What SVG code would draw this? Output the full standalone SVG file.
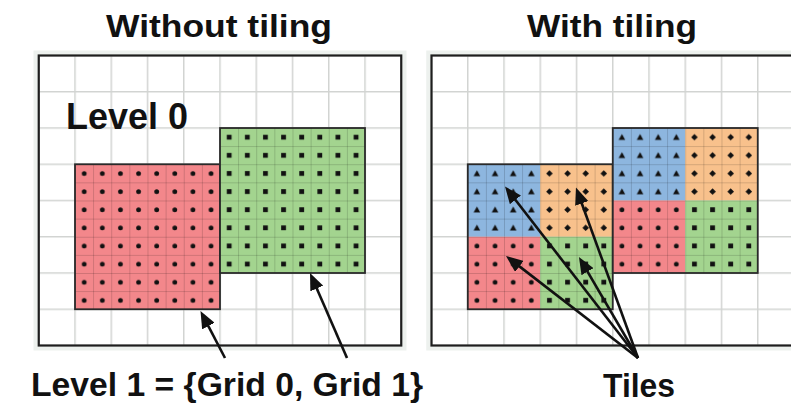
<svg xmlns="http://www.w3.org/2000/svg" width="791" height="405" viewBox="0 0 791 405">
  <style>
    .label { font-family: "Liberation Sans", Arial, sans-serif; font-weight: bold; fill: #111; }
    .halo { fill: none; stroke: #edf1ee; stroke-width: 5; }
    .frame { fill: none; stroke: #1e1e1e; stroke-width: 2.2; }
    .outline { fill: none; stroke: #2a2a2a; stroke-width: 1.8; }
    .red { fill: #f3878b; }
    .green { fill: #a3d48f; }
    .blue { fill: #8db6df; }
    .orange { fill: #f8c18c; }
    .arrow { stroke: #111; stroke-width: 2.6; fill: none; marker-end: url(#head); }
  </style>
  <defs>
    <!-- coarse background grid, 36.25 px cells -->
    <pattern id="bg" width="36.25" height="36.25" patternUnits="userSpaceOnUse" x="38" y="54.75">
      <path d="M0.75,0V36.25M0,0.75H36.25" stroke="#d2d4d2" stroke-width="1.5"/>
    </pattern>
    <!-- fine cells (18.125 px) with one marker each -->
    <pattern id="pDot" width="18.125" height="18.125" patternUnits="userSpaceOnUse" x="75" y="164.25">
      <path d="M0.4,0V18.125M0,0.4H18.125" stroke="#000" stroke-opacity="0.18" stroke-width="0.9"/>
      <circle cx="9.2" cy="9.2" r="2.4" fill="#111"/>
    </pattern>
    <pattern id="pSquare" width="18.125" height="18.125" patternUnits="userSpaceOnUse" x="75" y="164.25">
      <path d="M0.4,0V18.125M0,0.4H18.125" stroke="#000" stroke-opacity="0.18" stroke-width="0.9"/>
      <rect x="6.8" y="6.8" width="4.8" height="4.8" fill="#111"/>
    </pattern>
    <pattern id="pTri" width="18.125" height="18.125" patternUnits="userSpaceOnUse" x="75" y="164.25">
      <path d="M0.4,0V18.125M0,0.4H18.125" stroke="#000" stroke-opacity="0.18" stroke-width="0.9"/>
      <path d="M9.2,6L12.5,12H5.9Z" fill="#111"/>
    </pattern>
    <pattern id="pDiamond" width="18.125" height="18.125" patternUnits="userSpaceOnUse" x="75" y="164.25">
      <path d="M0.4,0V18.125M0,0.4H18.125" stroke="#000" stroke-opacity="0.18" stroke-width="0.9"/>
      <path d="M9.2,5.9L12.5,9.2L9.2,12.5L5.9,9.2Z" fill="#111"/>
    </pattern>
    <marker id="head" markerUnits="userSpaceOnUse" markerWidth="17" markerHeight="14" viewBox="0 0 17 14" refX="9" refY="7" orient="auto">
      <path d="M0,0L17,7L0,14Z" fill="#111"/>
    </marker>
  </defs>

  <rect width="791" height="405" fill="#fff"/>

  <!-- titles -->
  <text class="label" x="106" y="36.5" font-size="32" textLength="226" lengthAdjust="spacingAndGlyphs">Without tiling</text>
  <text class="label" x="527" y="36.5" font-size="32" textLength="170" lengthAdjust="spacingAndGlyphs">With tiling</text>

  <!-- left panel: one level made of two grids -->
  <g id="panel-untiled">
    <rect class="halo" x="36" y="53" width="368" height="295"/>
    <rect x="38.75" y="55.5" width="362.5" height="290" fill="#fff"/>
    <rect x="38.75" y="55.5" width="362.5" height="290" fill="url(#bg)"/>
    <g id="grid0">
      <rect class="red" x="75" y="164.25" width="145" height="145"/>
      <rect x="75" y="164.25" width="145" height="145" fill="url(#pDot)"/>
      <rect class="outline" x="75" y="164.25" width="145" height="145"/>
    </g>
    <g id="grid1">
      <rect class="green" x="220" y="128" width="145" height="145"/>
      <rect x="220" y="128" width="145" height="145" fill="url(#pSquare)"/>
      <rect class="outline" x="220" y="128" width="145" height="145"/>
    </g>
    <rect class="frame" x="38.75" y="55.5" width="362.5" height="290"/>
    <text class="label" x="66" y="129" font-size="36" textLength="122" lengthAdjust="spacingAndGlyphs">Level 0</text>
  </g>

  <!-- right panel: same grids split into 4x4-cell tiles -->
  <g id="panel-tiled" transform="translate(392.75,0)">
    <rect class="halo" x="36" y="53" width="368" height="295"/>
    <rect x="38.75" y="55.5" width="362.5" height="290" fill="#fff"/>
    <rect x="38.75" y="55.5" width="362.5" height="290" fill="url(#bg)"/>
    <g id="grid0-tiles">
      <g id="tile-0a">
        <rect class="blue" x="75" y="164.25" width="72.5" height="72.5"/>
        <rect x="75" y="164.25" width="72.5" height="72.5" fill="url(#pTri)"/>
      </g>
      <g id="tile-0b">
        <rect class="orange" x="147.5" y="164.25" width="72.5" height="72.5"/>
        <rect x="147.5" y="164.25" width="72.5" height="72.5" fill="url(#pDiamond)"/>
      </g>
      <g id="tile-0c">
        <rect class="red" x="75" y="236.75" width="72.5" height="72.5"/>
        <rect x="75" y="236.75" width="72.5" height="72.5" fill="url(#pDot)"/>
      </g>
      <g id="tile-0d">
        <rect class="green" x="147.5" y="236.75" width="72.5" height="72.5"/>
        <rect x="147.5" y="236.75" width="72.5" height="72.5" fill="url(#pSquare)"/>
      </g>
      <rect class="outline" x="75" y="164.25" width="145" height="145"/>
    </g>
    <g id="grid1-tiles">
      <g id="tile-1a">
        <rect class="blue" x="220" y="128" width="72.5" height="72.5"/>
        <rect x="220" y="128" width="72.5" height="72.5" fill="url(#pTri)"/>
      </g>
      <g id="tile-1b">
        <rect class="orange" x="292.5" y="128" width="72.5" height="72.5"/>
        <rect x="292.5" y="128" width="72.5" height="72.5" fill="url(#pDiamond)"/>
      </g>
      <g id="tile-1c">
        <rect class="red" x="220" y="200.5" width="72.5" height="72.5"/>
        <rect x="220" y="200.5" width="72.5" height="72.5" fill="url(#pDot)"/>
      </g>
      <g id="tile-1d">
        <rect class="green" x="292.5" y="200.5" width="72.5" height="72.5"/>
        <rect x="292.5" y="200.5" width="72.5" height="72.5" fill="url(#pSquare)"/>
      </g>
      <rect class="outline" x="220" y="128" width="145" height="145"/>
    </g>
    <rect class="frame" x="38.75" y="55.5" width="362.5" height="290"/>
  </g>

  <!-- connectors -->
  <g id="connectors">
    <line class="arrow" x1="225" y1="358" x2="204.2" y2="318.1"/>
    <line class="arrow" x1="347" y1="358" x2="313.2" y2="280.3"/>
    <line class="arrow" x1="638" y1="358" x2="509.9" y2="192.8"/>
    <line class="arrow" x1="638" y1="358" x2="578.7" y2="195.0"/>
    <line class="arrow" x1="638" y1="358" x2="512.3" y2="260.9"/>
    <line class="arrow" x1="638" y1="358" x2="583.0" y2="263.9"/>
  </g>

  <!-- bottom labels -->
  <text class="label" x="31" y="396" font-size="34" textLength="392" lengthAdjust="spacingAndGlyphs">Level 1 = {Grid 0, Grid 1}</text>
  <text class="label" x="603" y="397" font-size="34" textLength="72" lengthAdjust="spacingAndGlyphs">Tiles</text>
</svg>
